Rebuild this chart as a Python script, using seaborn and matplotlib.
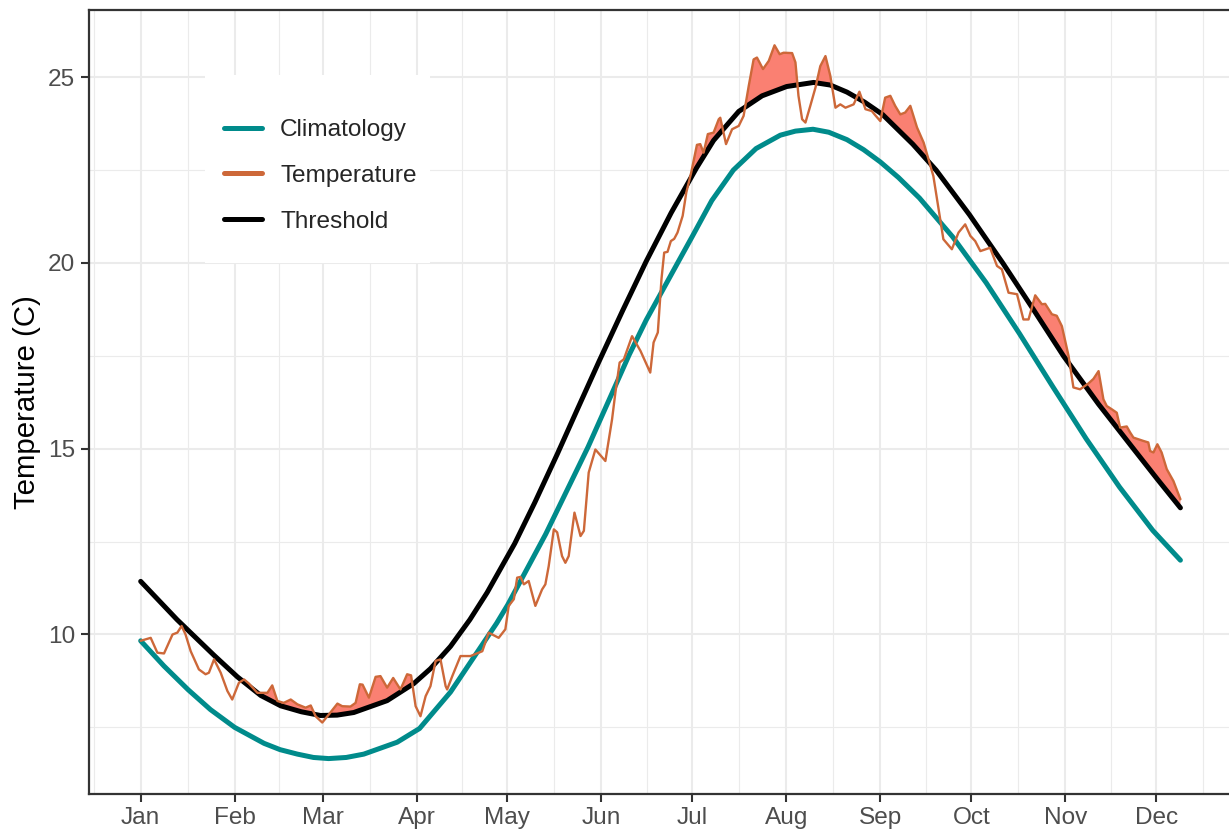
import numpy as np
import pandas as pd
import seaborn as sns
import matplotlib
matplotlib.use("Agg")
import matplotlib.pyplot as plt
import matplotlib.dates as mdates
from matplotlib.lines import Line2D
from matplotlib.patches import Rectangle

# values, x given as days since 2016-01-01
temp_days = [0, 3.3, 5.5, 7.7, 10.5, 12.1, 13.5, 14.8, 16.5, 19.2, 21.4, 22.5, 24.2, 26.4,
             28.6, 30.2, 32.4, 34.1, 35.7, 38.5, 41.8, 43.4, 45.1, 47.2, 49.5, 51.7, 54.4,
             56.1, 57.7, 59.9, 62.1, 64.9, 66.5, 69.2, 70.9, 72.3, 73.2, 75.3, 77.5, 79.1,
             81.3, 83.3, 85.7, 87.9, 89.2, 90.7, 92.3, 94.0, 95.6, 97.3, 98.9, 100.6, 101.1,
             102.8, 105.5, 108.8, 112.7, 114.8, 118.1, 120.3, 121.4, 123.1, 124.2, 125.3,
             126.4, 128.0, 130.2, 132.4, 133.5, 134.6, 136.3, 137.4, 139.0, 140.1, 141.2,
             143.1, 145.1, 146.2, 147.8, 150.0, 153.3, 155.5, 156.6, 158.0, 159.4, 162.1,
             164.9, 168.1, 169.2, 170.6, 171.8, 172.7, 173.8, 174.9, 176.0, 177.1, 178.8,
             180.0, 181.6, 183.5, 184.6, 185.7, 187.1, 189.0, 190.7, 191.2, 193.1, 195.1,
             197.3, 198.9, 200.6, 202.2, 203.3, 205.3, 207.2, 209.1, 210.8, 212.1, 214.9,
             216.0, 217.0, 218.2, 219.3, 220.9, 222.6, 224.2, 225.9, 227.5, 229.2, 230.8,
             232.5, 235.2, 237.1, 239.1, 241.2, 242.3, 244.0, 245.6, 247.3, 248.9, 250.6,
             252.2, 253.9, 256.1, 258.3, 261.5, 264.8, 267.6, 269.8, 272.0, 273.7, 275.3,
             277.0, 280.2, 282.5, 284.1, 286.3, 289.1, 291.2, 292.9, 295.1, 297.3, 298.4,
             300.6, 302.2, 303.9, 306.1, 307.7, 309.9, 312.7, 314.3, 316.0, 317.6, 318.7,
             320.4, 322.0, 323.1, 325.3, 326.4, 327.5, 330.8, 332.4, 333.0, 334.1, 335.4,
             336.8, 338.5, 340.7, 343.0]
temp_vals = [9.83, 9.91, 9.51, 9.49, 10.00, 10.05, 10.23, 10.00, 9.55, 9.06, 8.93, 8.97, 9.33,
             8.97, 8.48, 8.25, 8.70, 8.79, 8.68, 8.43, 8.43, 8.63, 8.21, 8.16, 8.25, 8.12,
             8.03, 8.09, 7.80, 7.63, 7.85, 8.14, 8.07, 8.06, 8.16, 8.66, 8.65, 8.30, 8.86,
             8.88, 8.57, 8.83, 8.52, 8.93, 8.90, 8.07, 7.80, 8.34, 8.61, 9.29, 9.33, 8.61,
             8.52, 8.88, 9.42, 9.42, 9.55, 10.05, 9.91, 10.14, 10.77, 10.95, 11.53, 11.55,
             11.35, 11.44, 10.77, 11.21, 11.35, 11.84, 12.83, 12.75, 12.11, 11.93, 12.11,
             13.28, 12.65, 12.79, 14.36, 14.98, 14.67, 15.79, 16.51, 17.32, 17.41, 18.03,
             17.63, 17.05, 17.86, 18.13, 19.56, 20.28, 20.30, 20.59, 20.65, 20.82, 21.27,
             21.90, 22.43, 23.18, 23.20, 22.97, 23.47, 23.51, 23.87, 23.91, 23.20, 23.60,
             23.69, 23.96, 24.77, 25.48, 25.53, 25.22, 25.44, 25.86, 25.62, 25.66, 25.65,
             25.40, 24.50, 23.87, 23.78, 24.23, 24.72, 25.30, 25.57, 25.04, 24.18, 24.27,
             24.18, 24.27, 24.61, 24.14, 24.09, 23.98, 23.82, 24.45, 24.50, 24.23, 24.00,
             24.05, 24.23, 23.65, 23.24, 22.34, 20.64, 20.37, 20.82, 21.04, 20.73, 20.59,
             20.32, 20.41, 19.92, 19.83, 19.20, 19.16, 18.48, 18.48, 19.13, 18.89, 18.90,
             18.62, 18.58, 18.30, 17.50, 16.65, 16.60, 16.76, 16.88, 17.09, 16.33, 16.15,
             16.06, 15.97, 15.57, 15.60, 15.44, 15.30, 15.21, 15.17, 14.94, 14.90, 15.12,
             14.90, 14.45, 14.13, 13.64]

clim_days = [0, 7.7, 15.7, 23, 31, 40.7, 46, 51.7, 57, 62, 67.8, 73.6, 84.6, 92, 102.2,
             117.4, 121.1, 133.6, 147.6, 161.1, 166.8, 177.8, 182, 188.4, 195.5, 203, 211,
             216, 221.8, 227, 233, 238.5, 244, 250, 256.9, 267.9, 278.9, 289.9, 300.9, 311.9,
             322.9, 333.9, 343]
clim_vals = [9.83, 9.15, 8.51, 7.98, 7.50, 7.07, 6.90, 6.78, 6.69, 6.66, 6.69, 6.78, 7.10,
             7.47, 8.45, 10.30, 10.80, 12.70, 15.05, 17.52, 18.47, 20.10, 20.72, 21.68, 22.50,
             23.08, 23.44, 23.55, 23.60, 23.52, 23.32, 23.05, 22.72, 22.30, 21.75, 20.70,
             19.47, 18.10, 16.67, 15.27, 13.97, 12.80, 12.00]

thresh_days = [0, 12, 24.2, 31.9, 39.6, 46.2, 53, 59.3, 64.8, 70.3, 81.3, 90.1, 95.6, 102.2,
               108.6, 114.3, 123.4, 130, 137.4, 144, 151.2, 159, 166.8, 175, 183.3, 189,
               197.3, 205, 213.1, 222, 227.5, 233, 238.8, 244.7, 254.7, 262.4, 273.4, 284.4,
               294.4, 304.4, 316, 327.5, 335.5, 343]
thresh_vals = [11.43, 10.40, 9.44, 8.86, 8.36, 8.08, 7.92, 7.82, 7.83, 7.90, 8.22, 8.68,
               9.08, 9.68, 10.40, 11.13, 12.45, 13.55, 14.85, 16.05, 17.35, 18.72, 20.05,
               21.35, 22.55, 23.30, 24.08, 24.50, 24.75, 24.86, 24.79, 24.60, 24.33, 24.00,
               23.20, 22.50, 21.30, 20.00, 18.76, 17.50, 16.20, 15.00, 14.17, 13.41]

series_names = ["Climatology", "Temperature", "Threshold"]
series_colors = ["#008B8B", "#CD6839", "#000000"]
flame_color = "#FA8072"

start = pd.Timestamp("2016-01-01")


def to_dates(days):
    return start + pd.to_timedelta(np.asarray(days, dtype=float), unit="D")


temp = pd.DataFrame({"t": to_dates(temp_days), "temp": temp_vals})
clim = pd.DataFrame({"t": to_dates(clim_days), "seas": clim_vals})
thresh = pd.DataFrame({"t": to_dates(thresh_days), "thresh": thresh_vals})

sns.set_theme(style="white")
plt.rcParams["font.family"] = ["Liberation Sans", "DejaVu Sans"]

fig = plt.figure(figsize=(1229 / 200, 834 / 200), dpi=200)
ax = fig.add_axes([88.7 / 1229, 1 - 793.5 / 834, (1232.4 - 88.7) / 1229, (793.5 - 10) / 834])

# flame between threshold and temperature where temp is above threshold
thr_at_temp = np.interp(temp_days, thresh_days, thresh_vals)
ax.fill_between(temp["t"], thr_at_temp, temp["temp"], where=np.array(temp_vals) > thr_at_temp,
                interpolate=True, color=flame_color, linewidth=0, zorder=2)

sns.lineplot(data=clim, x="t", y="seas", ax=ax, color=series_colors[0], linewidth=1.8,
             errorbar=None, zorder=3)
sns.lineplot(data=thresh, x="t", y="thresh", ax=ax, color=series_colors[2], linewidth=1.8,
             errorbar=None, zorder=4)
sns.lineplot(data=temp, x="t", y="temp", ax=ax, color=series_colors[1], linewidth=0.85,
             errorbar=None, zorder=5)

# axes, ggplot theme_bw look
ax.set_xlim(start - pd.Timedelta(days=17.15), start + pd.Timedelta(days=360.15))
ax.set_ylim(5.72, 26.81)
ax.xaxis.set_major_locator(mdates.MonthLocator())
ax.xaxis.set_major_formatter(mdates.DateFormatter("%b"))
month_starts = pd.date_range("2015-12-01", "2017-01-01", freq="MS")
mids = [mdates.date2num(a) + (mdates.date2num(b) - mdates.date2num(a)) / 2
        for a, b in zip(month_starts[:-1], month_starts[1:])]
ax.xaxis.set_minor_locator(matplotlib.ticker.FixedLocator(mids))
ax.set_yticks([10, 15, 20, 25])
ax.yaxis.set_minor_locator(matplotlib.ticker.FixedLocator([7.5, 12.5, 17.5, 22.5]))

ax.grid(True, which="major", color="#EBEBEB", linewidth=0.75)
ax.grid(True, which="minor", color="#EBEBEB", linewidth=0.4)
ax.set_axisbelow(True)
for s in ax.spines.values():
    s.set_color("#333333")
    s.set_linewidth(0.8)
ax.tick_params(which="major", length=2.75, width=0.75, color="#333333", labelsize=8.8,
               labelcolor="#4D4D4D", pad=2.2, bottom=True, left=True)
ax.tick_params(which="minor", length=0)
ax.set_xlabel("")
ax.set_ylabel("Temperature (C)", fontsize=10.6, color="black", labelpad=2.5)

# legend with a white box inside the panel
box = Rectangle((205 / 1229, 1 - 263 / 834), 225 / 1229, 188 / 834, transform=fig.transFigure,
                facecolor="white", edgecolor="none", zorder=2.5)
ax.add_patch(box)
handles = [Line2D([], [], color=c, linewidth=1.8) for c in series_colors]
leg = ax.legend(handles, series_names, loc="upper left", bbox_to_anchor=(224 / 1229, 1 - 119 / 834),
                bbox_transform=fig.transFigure, frameon=False, fontsize=8.8, borderpad=0,
                borderaxespad=0, handlelength=1.55, handletextpad=0.75, labelspacing=0.97)
leg.set_zorder(6)

fig.savefig("out.png", dpi=200)
